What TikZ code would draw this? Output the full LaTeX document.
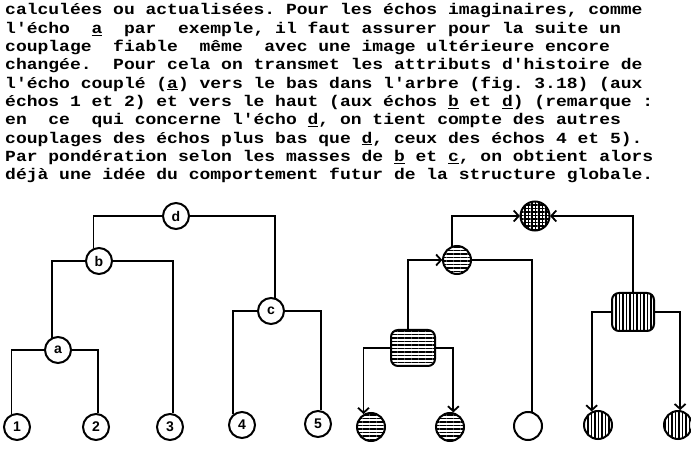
\documentclass[tikz,border=0pt]{standalone}
\usepackage{fontspec}
\newfontfamily\typefont{Liberation Mono}
\newfontfamily\labelfont{Liberation Sans}
\usepackage{tikz}
\usetikzlibrary{arrows.meta, positioning, patterns.meta}

\begin{document}
\begin{tikzpicture}[
    x=1pt, y=1pt, on grid, >=Straight Barb,
    txt/.style={anchor=base west, inner sep=0pt, yscale=0.86, transform shape, font=\typefont\bfseries\fontsize{18}{18}\selectfont},
    echo/.style={circle, draw, line width=2pt, minimum size=26pt, inner sep=0pt, font=\labelfont\bfseries\fontsize{14}{14}\selectfont},
    state/.style={circle, draw, line width=2pt, minimum size=28pt, inner sep=0pt},
    groupbox/.style={rectangle, draw, line width=2pt, rounded corners=7pt, minimum width=44pt, minimum height=36pt, inner sep=0pt},
    hzfill/.style={pattern={Lines[angle=0, distance=3.5pt, line width=1.4pt]}},
    vtfill/.style={pattern={Lines[angle=90, distance=3.5pt, line width=1.4pt]}},
    crossfill/.style={pattern={Hatch[angle=0, distance=3.5pt, line width=1.1pt]}},
    link/.style={draw, line width=1.8pt},
    flow/.style={link, -{Straight Barb[length=5pt, width=11pt]}}
  ]
    \useasboundingbox (0,0) rectangle (691,450);

    % text above the figure
    \foreach \ln [count=\i] in {
        {calculées ou actualisées. Pour les échos imaginaires, comme},
        {l'écho~~\underline{a}~~par~~exemple, il faut assurer pour la suite un},
        {couplage~~fiable~~même~~avec une image ultérieure encore},
        {changée.~~Pour cela on transmet les attributs d'histoire de},
        {l'écho couplé (\underline{a}) vers le bas dans l'arbre (fig. 3.18) (aux},
        {échos 1 et 2) et vers le haut (aux échos \underline{b} et \underline{d}) (remarque :},
        {en~~ce~~qui concerne l'écho \underline{d}, on tient compte des autres},
        {couplages des échos plus bas que \underline{d}, ceux des échos 4 et 5).},
        {Par pondération selon les masses de \underline{b} et \underline{c}, on obtient alors},
        {déjà une idée du comportement futur de la structure globale.}}
      \node[txt] (txt\i) at (5,{435-18.33*(\i-1)}) {\frenchspacing\ln};

    % left tree
    \node (d) [echo] at (176,234) {d};
    \node (b) [echo, below left=45pt and 77pt of d] {b};
    \node (a) [echo, below left=89pt and 41pt of b] {a};
    \node (c) [echo, below right=95pt and 95pt of d] {c};
    \node (e1) [echo, below left=77pt and 41pt of a] {1};
    \node (e2) [echo, below right=77pt and 38pt of a] {2};
    \node (e3) [echo, below right=166pt and 71pt of b] {3};
    \node (e4) [echo, below left=114pt and 29pt of c] {4};
    \node (e5) [echo, below right=113pt and 47pt of c] {5};

    \draw[link] (b.113) |- (d);
    \draw[link] (c.72) |- (d);
    \draw[link] (a.117) |- (b);
    \draw[link] (b) -| (e3.77);
    \draw[link] (a) -| (e1.113);
    \draw[link] (a) -| (e2.81);
    \draw[link] (c) -| (e4.128);
    \draw[link] (c) -| (e5.77);

    % right tree
    \node (dd) [state, crossfill, minimum size=29pt] at (535,234) {};
    \node (bb) [state, hzfill, below left=44pt and 78pt of dd] {};
    \node (aa) [groupbox, hzfill, below left=88pt and 44pt of bb] {};
    \node (cc) [groupbox, vtfill, minimum width=42pt, minimum height=38pt, below right=96pt and 98pt of dd] {};
    \node (f1) [state, hzfill, below left=79pt and 42pt of aa] {};
    \node (f2) [state, hzfill, below right=79pt and 37pt of aa] {};
    \node (f3) [state, below right=166pt and 71pt of bb] {};
    \node (f4) [state, vtfill, below left=113pt and 35pt of cc] {};
    \node (f5) [state, vtfill, below right=113pt and 45pt of cc] {};

    \draw[flow] (bb.110) |- (dd);
    \draw[flow] (cc) |- (dd);
    \draw[flow] ([xshift=-5pt]aa.north) |- (bb);
    \draw[link] (bb) -| (f3.73);
    \draw[flow] (aa) -| (f1.120);
    \draw[flow] (aa) -| (f2.77);
    \draw[flow] (cc) -| (f4.115);
    \draw[flow] (cc) -| (f5.82);
\end{tikzpicture}
\end{document}
